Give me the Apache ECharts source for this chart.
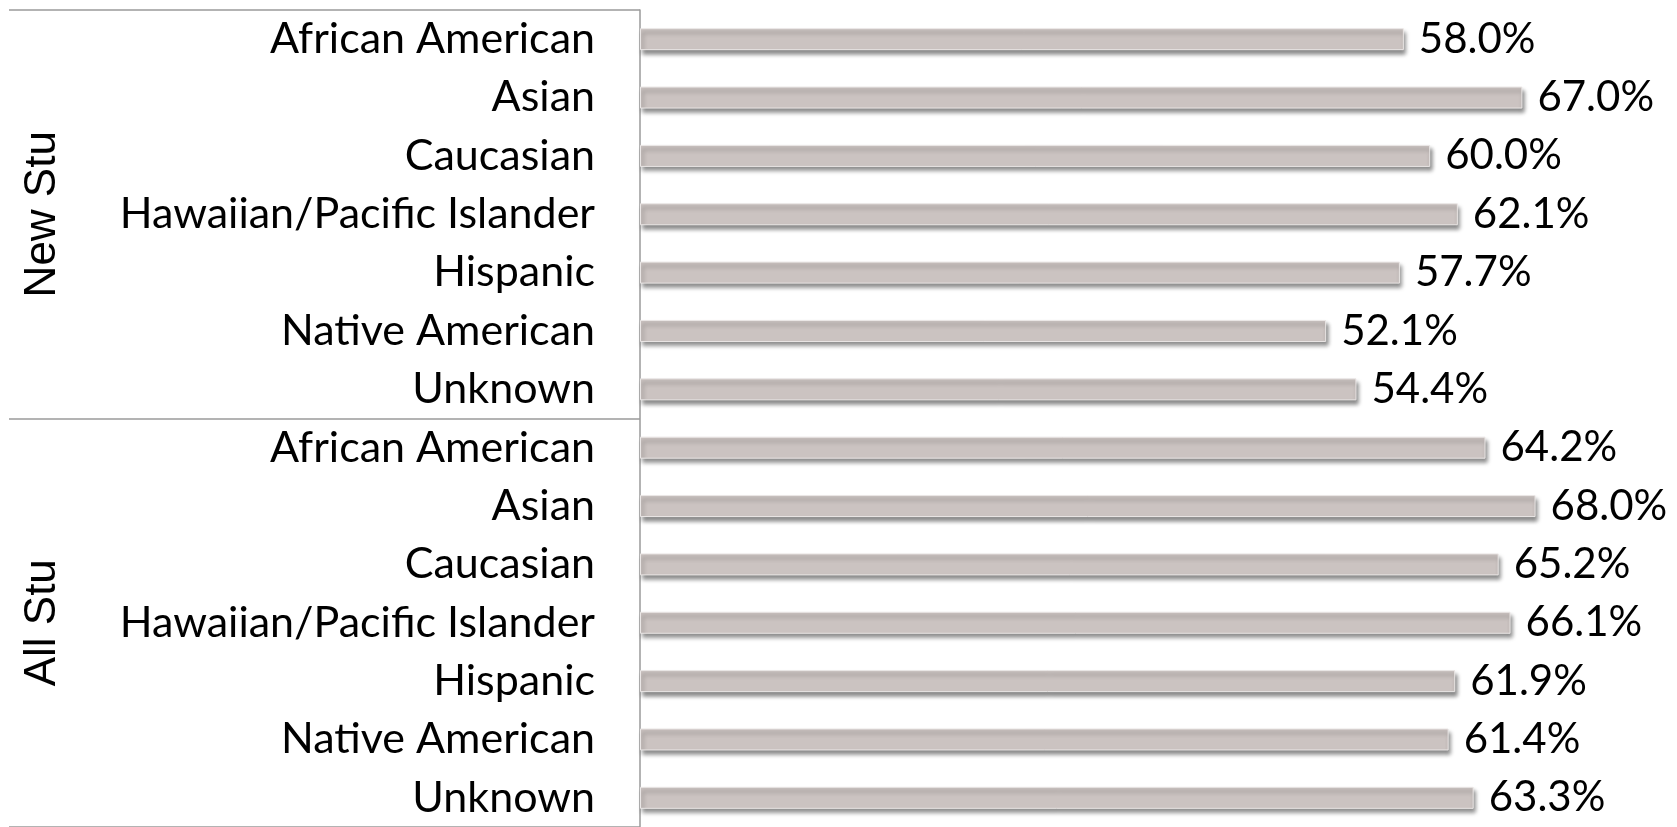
<!DOCTYPE html>
<html>
<head>
<meta charset="utf-8">
<script src="https://cdn.jsdelivr.net/npm/echarts@6/dist/echarts.min.js"></script>
<style>
  html, body { margin: 0; padding: 0; background: #fff; }
  #chart { width: 1677px; height: 827px; }
</style>
</head>
<body>
<div id="chart"></div>
<script>
  var groups = ['New Stu', 'All Stu'];
  var ethnicities = ['African American', 'Asian', 'Caucasian', 'Hawaiian/Pacific Islander',
    'Hispanic', 'Native American', 'Unknown'];
  var newStu = [58.0, 67.0, 60.0, 62.1, 57.7, 52.1, 54.4];
  var allStu = [64.2, 68.0, 65.2, 66.1, 61.9, 61.4, 63.3];

  var categories = ethnicities.concat(ethnicities);
  var values = newStu.concat(allStu);

  var chart = echarts.init(document.getElementById('chart'));
  chart.setOption({
    animation: false,
    grid: {
      left: 640,
      top: 10,
      right: 0,
      height: 820
    },
    xAxis: {
      type: 'value',
      min: 0,
      max: 78.74,
      show: false
    },
    yAxis: [{
      type: 'category',
      inverse: true,
      data: categories,
      axisLine: { lineStyle: { color: '#9a9a9a', width: 1.5 } },
      axisTick: { show: false },
      axisLabel: {
        margin: 45,
        color: '#000',
        fontFamily: 'Lato',
        fontSize: 43,
        padding: [4, 0, 0, 0]
      }
    }, {
      type: 'category',
      inverse: true,
      data: groups,
      position: 'left',
      axisLine: { show: false },
      axisTick: {
        show: true,
        length: 631,
        lineStyle: { color: '#9a9a9a', width: 1.5 }
      },
      axisLabel: {
        rotate: 90,
        margin: 575,
        color: '#000',
        fontFamily: 'Liberation Sans',
        fontSize: 44
      }
    }],
    series: [{
      type: 'bar',
      yAxisIndex: 0,
      data: values,
      barWidth: 22,
      itemStyle: {
        color: '#cbc3c1',
        borderColor: '#ebe7e6',
        borderWidth: 1,
        shadowColor: 'rgba(0,0,0,0.45)',
        shadowBlur: 4,
        shadowOffsetX: 2,
        shadowOffsetY: 4
      },
      label: {
        show: true,
        position: 'right',
        distance: 15,
        color: '#000',
        fontFamily: 'Lato',
        fontSize: 42,
        padding: [6, 0, 0, 0],
        formatter: function (p) { return p.value.toFixed(1) + '%'; }
      }
    }]
  });
</script>
</body>
</html>
